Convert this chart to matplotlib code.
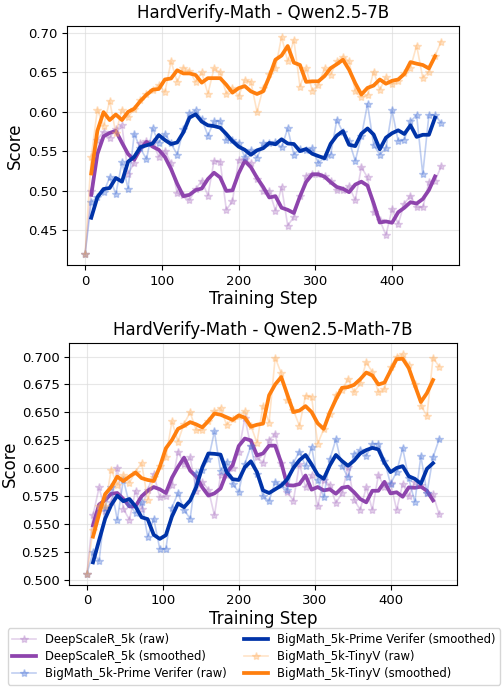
import numpy as np
import pandas as pd
import matplotlib
matplotlib.use("Agg")
import matplotlib.pyplot as plt

steps = list(range(0, 465, 8))

# ---- Top panel: HardVerify-Math - Qwen2.5-7B (raw scores) ----
top_deepscaler = [0.420, 0.500, 0.565, 0.575, 0.567, 0.578, 0.583, 0.522, 0.535, 0.561,
                  0.563, 0.562, 0.543, 0.551, 0.535, 0.497, 0.495, 0.488, 0.502, 0.513,
                  0.494, 0.538, 0.537, 0.476, 0.487, 0.539, 0.540, 0.535, 0.515, 0.500,
                  0.500, 0.475, 0.505, 0.456, 0.467, 0.493, 0.519, 0.522, 0.522, 0.519,
                  0.513, 0.501, 0.501, 0.506, 0.488, 0.530, 0.517, 0.473, 0.463, 0.444,
                  0.477, 0.458, 0.484, 0.494, 0.479, 0.479, 0.511, 0.513, 0.531]
top_prime = [0.420, 0.486, 0.492, 0.498, 0.517, 0.496, 0.536, 0.503, 0.572, 0.554,
             0.540, 0.579, 0.561, 0.572, 0.560, 0.546, 0.578, 0.598, 0.602, 0.591,
             0.570, 0.588, 0.588, 0.564, 0.564, 0.561, 0.543, 0.552, 0.542, 0.560,
             0.560, 0.562, 0.555, 0.579, 0.546, 0.553, 0.552, 0.554, 0.535, 0.543,
             0.546, 0.590, 0.574, 0.563, 0.538, 0.569, 0.610, 0.558, 0.546, 0.554,
             0.602, 0.563, 0.565, 0.588, 0.596, 0.521, 0.596, 0.596, 0.586]
top_tinyv = [0.420, 0.543, 0.603, 0.582, 0.614, 0.573, 0.603, 0.593, 0.604, 0.615,
             0.622, 0.628, 0.634, 0.625, 0.664, 0.638, 0.656, 0.652, 0.638, 0.650,
             0.623, 0.655, 0.650, 0.623, 0.630, 0.620, 0.640, 0.638, 0.600, 0.630,
             0.648, 0.655, 0.695, 0.664, 0.691, 0.632, 0.655, 0.627, 0.634, 0.655,
             0.647, 0.664, 0.670, 0.664, 0.626, 0.619, 0.621, 0.651, 0.628, 0.644,
             0.635, 0.639, 0.649, 0.656, 0.684, 0.643, 0.651, 0.671, 0.689]

# ---- Bottom panel: HardVerify-Math - Qwen2.5-Math-7B (raw scores) ----
bot_deepscaler = [0.506, 0.558, 0.583, 0.562, 0.570, 0.600, 0.564, 0.554, 0.580, 0.564,
                  0.581, 0.595, 0.574, 0.575, 0.585, 0.615, 0.604, 0.610, 0.580, 0.588,
                  0.581, 0.558, 0.594, 0.594, 0.600, 0.615, 0.645, 0.620, 0.610, 0.605,
                  0.625, 0.631, 0.605, 0.579, 0.571, 0.604, 0.583, 0.594, 0.566, 0.590,
                  0.585, 0.569, 0.578, 0.601, 0.572, 0.563, 0.583, 0.563, 0.594, 0.583,
                  0.587, 0.563, 0.586, 0.575, 0.588, 0.585, 0.578, 0.577, 0.559]
bot_prime = [0.506, 0.525, 0.517, 0.565, 0.583, 0.554, 0.590, 0.568, 0.560, 0.570,
             0.539, 0.555, 0.528, 0.528, 0.565, 0.578, 0.563, 0.555, 0.596, 0.599,
             0.608, 0.633, 0.598, 0.606, 0.586, 0.579, 0.604, 0.620, 0.595, 0.575,
             0.571, 0.588, 0.585, 0.581, 0.605, 0.615, 0.602, 0.619, 0.590, 0.574,
             0.608, 0.626, 0.602, 0.592, 0.613, 0.616, 0.611, 0.622, 0.622, 0.607,
             0.586, 0.597, 0.618, 0.591, 0.570, 0.611, 0.578, 0.610, 0.626]
bot_tinyv = [0.506, 0.545, 0.566, 0.566, 0.599, 0.585, 0.594, 0.587, 0.597, 0.605,
             0.572, 0.592, 0.602, 0.610, 0.642, 0.624, 0.640, 0.650, 0.634, 0.634,
             0.642, 0.651, 0.654, 0.639, 0.644, 0.647, 0.651, 0.638, 0.623, 0.656,
             0.641, 0.699, 0.685, 0.661, 0.652, 0.638, 0.665, 0.664, 0.622, 0.635,
             0.649, 0.666, 0.670, 0.680, 0.668, 0.676, 0.695, 0.686, 0.668, 0.671,
             0.691, 0.700, 0.702, 0.692, 0.675, 0.656, 0.647, 0.699, 0.691]

series_names = ["DeepScaleR_5k", "BigMath_5k-Prime Verifer", "BigMath_5k-TinyV"]
raw_colors = ["#b07cc6", "#4a74d8", "#ffb061"]
smooth_colors = ["#8e44ad", "#0033a8", "#ff7f0e"]
titles = ["HardVerify-Math - Qwen2.5-7B", "HardVerify-Math - Qwen2.5-Math-7B"]
panels = [[top_deepscaler, top_prime, top_tinyv], [bot_deepscaler, bot_prime, bot_tinyv]]

fig = plt.figure(figsize=(5.03, 6.92), dpi=100)
ax_top = fig.add_axes([0.1338, 0.6171, 0.7787, 0.3454])
ax_bot = fig.add_axes([0.1378, 0.1553, 0.7702, 0.3486])

handles = []
for ax, title, data in zip([ax_top, ax_bot], titles, panels):
    for name, vals, rc, sc in zip(series_names, data, raw_colors, smooth_colors):
        s = pd.Series(vals, index=steps)
        sm = s.rolling(3, center=True).mean()
        h1, = ax.plot(s.index, s.values, color=rc, alpha=0.35, lw=1.2,
                      marker="*", markersize=6, label=f"{name} (raw)")
        h2, = ax.plot(sm.index, sm.values, color=sc, lw=2.7,
                      label=f"{name} (smoothed)")
        if ax is ax_top:
            handles.extend([h1, h2])
    ax.set_title(title, fontsize=12)
    ax.set_xlabel("Training Step", fontsize=12, labelpad=2)
    ax.tick_params(labelsize=9.5)
    ax.grid(True, color="#dddddd", alpha=0.7, lw=0.8)
    ax.set_xticks([0, 100, 200, 300, 400])

ax_top.set_ylabel("Score", fontsize=12, labelpad=3)
ax_bot.set_ylabel("Score", fontsize=12, labelpad=2)

fig.legend(handles=handles, loc="lower center", bbox_to_anchor=(0.505, 0.002),
           ncol=2, fontsize=8.4, handlelength=2.0, columnspacing=1.5,
           labelspacing=0.35, borderpad=0.4)

fig.savefig("out.png", dpi=100)
